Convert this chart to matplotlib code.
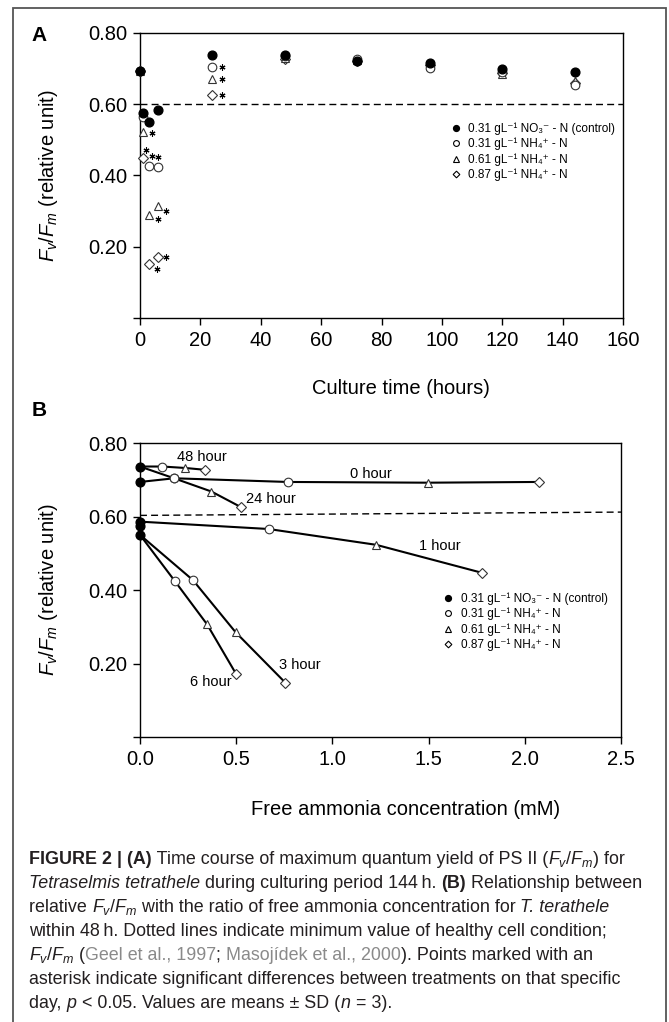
import matplotlib
matplotlib.use("Agg")
import matplotlib.pyplot as plt
from matplotlib import transforms
from matplotlib.patches import Rectangle

plt.rcParams['font.family'] = ['Liberation Sans', 'DejaVu Sans']
plt.rcParams['mathtext.fontset'] = 'custom'
plt.rcParams['mathtext.rm'] = 'Liberation Sans'
plt.rcParams['mathtext.it'] = 'Liberation Sans:italic'
plt.rcParams['mathtext.bf'] = 'Liberation Sans:bold'

# ---- data, panel A (Fv/Fm vs culture time) ----
hours_a = [0, 1, 3, 6, 24, 48, 72, 96, 120, 144]
ctrl_a = [0.694, 0.575, 0.549, 0.584, 0.738, 0.737, 0.720, 0.715, 0.698, 0.690]
nh031_a = [0.694, 0.565, 0.427, 0.425, 0.705, 0.735, 0.728, 0.703, 0.690, 0.655]
nh061_a = [0.694, 0.523, 0.289, 0.313, 0.670, 0.730, 0.725, 0.708, 0.685, 0.665]
nh087_a = [0.694, 0.449, 0.152, 0.172, 0.627, 0.728, 0.722, 0.710, 0.688, 0.660]

# ---- data, panel B (Fv/Fm vs free ammonia) ----
ctrl_b = [0.736, 0.694, 0.586, 0.575, 0.550]
fa_0h = [0, 0.177, 0.767, 1.495, 2.075]
fv_0h = [0.694, 0.704, 0.694, 0.692, 0.694]
fa_1h = [0, 0.668, 1.227, 1.776]
fv_1h = [0.586, 0.566, 0.523, 0.447]
fa_3h = [0, 0.275, 0.497, 0.755]
fv_3h = [0.550, 0.427, 0.285, 0.148]
fa_6h = [0, 0.180, 0.348, 0.500]
fv_6h = [0.550, 0.425, 0.307, 0.171]
fa_24h = [0, 0.177, 0.371, 0.523]
fv_24h = [0.736, 0.704, 0.668, 0.626]
fa_48h = [0, 0.116, 0.236, 0.339]
fv_48h = [0.736, 0.736, 0.732, 0.727]

legend_labels = ['0.31 gL\u207b\u00b9 NO\u2083\u207b - N (control)',
                 '0.31 gL\u207b\u00b9 NH\u2084\u207a - N',
                 '0.61 gL\u207b\u00b9 NH\u2084\u207a - N',
                 '0.87 gL\u207b\u00b9 NH\u2084\u207a - N']

W, H = 669, 1022
fig = plt.figure(figsize=(W / 100, H / 100), dpi=100)


def px_axes(l, t, r, b):
    return fig.add_axes([l / W, 1 - b / H, (r - l) / W, (b - t) / H])


def style(ax):
    for s in ax.spines.values():
        s.set_linewidth(1.0)
        s.set_color('black')
    ax.tick_params(direction='out', length=5, width=1, labelsize=14.5, pad=4)


ctrl_st = dict(marker='o', ms=6.3, mfc='black', mec='black', ls='none')
c_st = dict(marker='o', ms=6.2, mfc='white', mec='#333333', mew=0.8, ls='none')
t_st = dict(marker='^', ms=6.2, mfc='white', mec='#333333', mew=0.8, ls='none')
d_st = dict(marker='D', ms=4.6, mfc='white', mec='#333333', mew=0.8, ls='none')

leg_marks = [dict(marker='o', ms=4.2, mfc='black', mec='black'),
             dict(marker='o', ms=4.2, mfc='white', mec='black', mew=0.8),
             dict(marker='^', ms=4.2, mfc='white', mec='black', mew=0.8),
             dict(marker='D', ms=3.4, mfc='white', mec='black', mew=0.8)]


def make_legend(ax, x_mark, x_text, y_top, row_px):
    # hand-placed legend rows so the spacing stays tight like the original
    h_px = ax.get_position().height * H
    for k, (lab, mk) in enumerate(zip(legend_labels, leg_marks)):
        y = y_top - k * row_px / h_px
        ax.plot(x_mark, y, transform=ax.transAxes, clip_on=False, ls='none', **mk)
        ax.text(x_text, y - 4 / h_px, lab, transform=ax.transAxes, fontsize=8.5,
                ha='left', va='baseline')


# ================= panel A =================
axA = px_axes(140, 33, 623, 318)
style(axA)
axA.plot(hours_a, nh087_a, clip_on=False, zorder=3, **d_st)
axA.plot(hours_a, nh061_a, clip_on=False, zorder=4, **t_st)
axA.plot(hours_a, nh031_a, clip_on=False, zorder=5, **c_st)
axA.plot(hours_a, ctrl_a, clip_on=False, zorder=6, **ctrl_st)
axA.axhline(0.6, color='black', lw=1.0, ls=(0, (5, 3)))

# significance asterisks: (series, index, dx, dy in points)
stars = [(nh061_a, 1, 6.5, -1), (nh087_a, 1, 2, 6),
         (nh031_a, 2, 2, 7), (nh031_a, 3, 0, 7),
         (nh061_a, 2, 6.5, -2.5), (nh061_a, 3, 6, -3),
         (nh087_a, 2, 6, -4), (nh087_a, 3, 6, 0),
         (nh031_a, 4, 7, 0), (nh061_a, 4, 7, 0), (nh087_a, 4, 7, 0)]
for ser, i, dx, dy in stars:
    tr = transforms.offset_copy(axA.transData, fig=fig, x=dx, y=dy, units='points')
    axA.plot(hours_a[i], ser[i], marker=(6, 2, 0), ms=4.3, mew=0.8,
             color='black', transform=tr, clip_on=False, zorder=7)

axA.set_xlim(0, 160)
axA.set_ylim(0, 0.8)
axA.set_xticks(range(0, 161, 20))
axA.set_yticks([0, 0.2, 0.4, 0.6, 0.8])
axA.set_yticklabels(['', '0.20', '0.40', '0.60', '0.80'])
axA.set_xlabel('Culture time (hours)', fontsize=14.5)
axA.xaxis.set_label_coords(0.54, -0.215)
axA.set_ylabel(r'$F_v/F_m$ (relative unit)', fontsize=14.5)
axA.yaxis.set_label_coords(-0.166, 0.5)
make_legend(axA, 0.654, 0.679, (318 - 128) / 285, 15.3)
axA.text(-0.21, 0.99, 'A', transform=axA.transAxes, fontsize=15, fontweight='bold',
         ha='center', va='center')

# ================= panel B =================
axB = px_axes(140, 443, 621, 737)
style(axB)
lines_b = [(fa_0h, fv_0h, ['o', 'o', '^', 'D']),
           (fa_1h, fv_1h, ['o', '^', 'D']),
           (fa_3h, fv_3h, ['o', '^', 'D']),
           (fa_6h, fv_6h, ['o', '^', 'D']),
           (fa_24h, fv_24h, ['o', '^', 'D']),
           (fa_48h, fv_48h, ['o', '^', 'D'])]
st_for = {'o': c_st, '^': t_st, 'D': d_st}
for xs, ys, mk in lines_b:
    axB.plot(xs, ys, color='black', lw=1.5, zorder=3, clip_on=False)
    for x, y, m in zip(xs[1:], ys[1:], mk):
        axB.plot(x, y, zorder=4, clip_on=False, **st_for[m])
axB.plot([0] * len(ctrl_b), ctrl_b, zorder=5, clip_on=False, **ctrl_st)
axB.plot([0, 2.5], [0.603, 0.612], color='black', lw=1.0, ls=(0, (5, 3)))

hour_labels = [('48 hour', 0.324, 0.762), ('24 hour', 0.68, 0.647), ('0 hour', 1.2, 0.716),
               ('1 hour', 1.556, 0.52), ('3 hour', 0.83, 0.196), ('6 hour', 0.37, 0.149)]
for s, x, y in hour_labels:
    axB.text(x, y, s, fontsize=10.5, ha='center', va='center')

axB.set_xlim(0, 2.5)
axB.set_ylim(0, 0.8)
axB.set_xticks([0, 0.5, 1.0, 1.5, 2.0, 2.5])
axB.set_xticklabels(['0.0', '0.5', '1.0', '1.5', '2.0', '2.5'])
axB.set_yticks([0, 0.2, 0.4, 0.6, 0.8])
axB.set_yticklabels(['', '0.20', '0.40', '0.60', '0.80'])
axB.set_xlabel('Free ammonia concentration (mM)', fontsize=14.5)
axB.xaxis.set_label_coords(0.552, -0.214)
axB.set_ylabel(r'$F_v/F_m$ (relative unit)', fontsize=14.5)
axB.yaxis.set_label_coords(-0.166, 0.5)
make_legend(axB, 0.641, 0.668, (736.7 - 597.7) / 294, 15.3)
axB.text(-0.21, 1.11, 'B', transform=axB.transAxes, fontsize=15, fontweight='bold',
         ha='center', va='center')

# ================= caption =================
cap_size = 12.9
ink = '#231f20'
gray = '#8a8a8a'
B_ = dict(fontweight='bold')
I_ = dict(fontstyle='italic')
G_ = dict(color=gray)
caption = [
    [('FIGURE 2 | (A)', B_), (' Time course of maximum quantum yield of PS II (', {}),
     ('$F_v/F_m$', {}), (') for', {})],
    [('Tetraselmis tetrathele', I_), (' during culturing period 144\u2009h. ', {}),
     ('(B)', B_), (' Relationship between', {})],
    [('relative ', {}), ('$F_v/F_m$', {}),
     (' with the ratio of free ammonia concentration for ', {}), ('T. terathele', I_)],
    [('within 48\u2009h. Dotted lines indicate minimum value of healthy cell condition;', {})],
    [('$F_v/F_m$', {}), (' (', {}), ('Geel et al., 1997', G_), ('; ', {}),
     ('Masojídek et al., 2000', G_), ('). Points marked with an', {})],
    [('asterisk indicate significant differences between treatments on that specific', {})],
    [('day, ', {}), ('$p$', {}), (' < 0.05. Values are means \u00b1 SD (', {}),
     ('$n$', {}), (' = 3).', {})],
]

renderer = fig.canvas.get_renderer()


def text_w(s, kw):
    t = fig.text(0, 0, s + '|', fontsize=cap_size, **kw)
    b = fig.text(0, 0, '|', fontsize=cap_size, **kw)
    w = t.get_window_extent(renderer).width - b.get_window_extent(renderer).width
    t.remove()
    b.remove()
    return w


base0 = 864
step = 24.0
for k, parts in enumerate(caption):
    x = 29
    y = base0 + k * step
    for s, st in parts:
        kw = dict(color=ink)
        kw.update(st)
        fig.text(x / W, 1 - y / H, s, fontsize=cap_size, va='baseline', ha='left', **kw)
        x += text_w(s, kw)

fig.add_artist(Rectangle((13 / W, -0.01), (666 - 13) / W, 1.01 - 8 / H, fill=False,
                         edgecolor='#555555', lw=1.3, transform=fig.transFigure))

fig.savefig('out.png', dpi=100)
